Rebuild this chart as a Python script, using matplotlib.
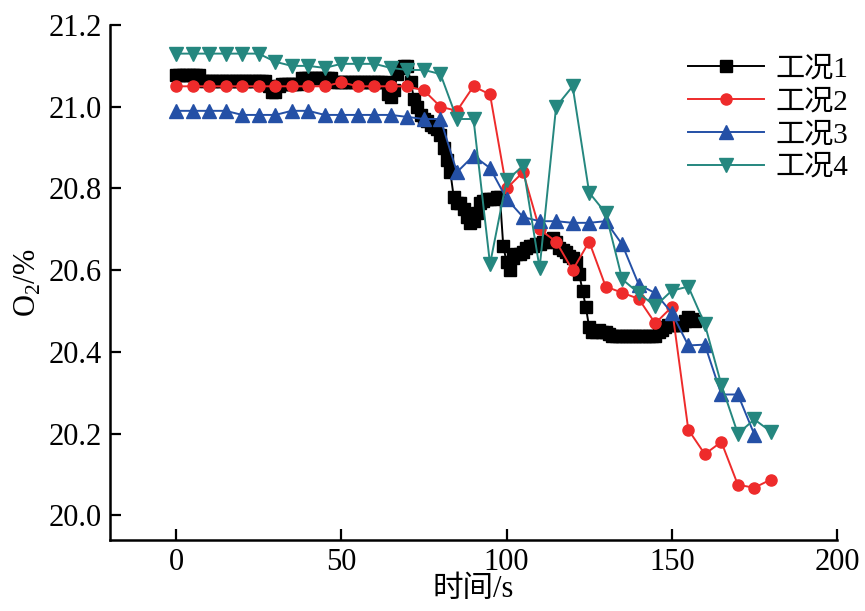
import matplotlib
matplotlib.use("Agg")
import matplotlib.pyplot as plt

plt.rcParams['font.family'] = ['Liberation Serif', 'Noto Sans CJK SC', 'DejaVu Sans']
plt.rcParams['mathtext.fontset'] = 'custom'
plt.rcParams['mathtext.rm'] = 'Liberation Serif'

# ---- data ----
t1 = list(range(0, 158))
y1 = [21.078, 21.078, 21.078, 21.078, 21.078, 21.078, 21.078, 21.078,
      21.063, 21.063, 21.063, 21.063, 21.063, 21.063, 21.063, 21.063, 21.063, 21.063,
      21.063, 21.063, 21.063, 21.063, 21.063, 21.063, 21.063, 21.063, 21.063, 21.063,
      21.05, 21.035, 21.035, 21.05,
      21.055, 21.055, 21.055, 21.055, 21.055, 21.055,
      21.07, 21.07, 21.07, 21.07, 21.07, 21.07, 21.07, 21.07, 21.07, 21.07,
      21.06, 21.06, 21.06, 21.06, 21.06, 21.06, 21.06, 21.06, 21.06, 21.06, 21.06, 21.06,
      21.06, 21.06, 21.06, 21.06,
      21.03, 21.025, 21.04, 21.08, 21.095, 21.10, 21.10, 21.06, 21.02, 21.0,
      20.98, 20.97, 20.965, 20.955, 20.95, 20.945, 20.93, 20.90, 20.87, 20.84,
      20.78, 20.765, 20.765, 20.75, 20.73, 20.715, 20.72, 20.74, 20.765, 20.77,
      20.775, 20.775, 20.775, 20.78, 20.78, 20.66, 20.62, 20.60, 20.63, 20.64,
      20.64, 20.645, 20.655, 20.66, 20.66, 20.665, 20.665, 20.67, 20.67, 20.675,
      20.68, 20.67, 20.655, 20.65, 20.645, 20.635, 20.63, 20.62, 20.59, 20.55,
      20.51, 20.46, 20.45, 20.45, 20.455, 20.45, 20.45, 20.445,
      20.44, 20.44, 20.44, 20.44, 20.44, 20.44, 20.44, 20.44, 20.44, 20.44, 20.44, 20.44,
      20.44, 20.44,
      20.45, 20.455, 20.46,
      20.465, 20.465, 20.465, 20.465, 20.465,
      20.475, 20.485, 20.48, 20.475]

t2 = list(range(0, 181, 5))
y2 = [21.05, 21.05, 21.05, 21.05, 21.05, 21.05, 21.05, 21.05, 21.05, 21.05,
      21.06, 21.05, 21.05, 21.05, 21.05, 21.04, 21.00, 20.99, 21.05, 21.03,
      20.80, 20.84, 20.70, 20.67, 20.60, 20.67, 20.56, 20.545, 20.53, 20.47,
      20.51, 20.21, 20.15, 20.18, 20.075, 20.068, 20.088]

t3 = list(range(0, 176, 5))
y3 = [20.99, 20.99, 20.99, 20.99, 20.98, 20.98, 20.98, 20.99, 20.99, 20.98,
      20.98, 20.98, 20.98, 20.98, 20.975, 20.97, 20.97, 20.84, 20.88, 20.85,
      20.775, 20.73, 20.72, 20.72, 20.716, 20.716, 20.72, 20.663, 20.565, 20.544,
      20.496, 20.416, 20.418, 20.296, 20.296, 20.198]

t4 = list(range(0, 181, 5))
y4 = [21.13, 21.13, 21.13, 21.13, 21.13, 21.13, 21.11, 21.10, 21.10, 21.095,
      21.105, 21.105, 21.105, 21.095, 21.09, 21.09, 21.08, 20.97, 20.97, 20.615,
      20.82, 20.855, 20.605, 21.00, 21.05, 20.79, 20.74, 20.578, 20.544, 20.512,
      20.55, 20.56, 20.468, 20.32, 20.20, 20.235, 20.205]

labels = ['工况1', '工况2', '工况3', '工况4']
colors = ['#000000', '#EE2B2B', '#2450A6', '#25877F']

xticks = [0, 50, 100, 150, 200]
yticks = [20.0, 20.2, 20.4, 20.6, 20.8, 21.0, 21.2]

# ---- figure ----
fig = plt.figure(figsize=(8.65, 6.11), dpi=100)
ax = fig.add_axes([110/865, 1-540/611, (837-110)/865, (540-25)/611])

ax.plot(t1, y1, color=colors[0], marker='s', ms=8, lw=1.4, label=labels[0])
ax.plot(t2, y2, color=colors[1], marker='o', ms=8, lw=1.4, label=labels[1])
ax.plot(t3, y3, color=colors[2], marker='^', ms=9.5, lw=1.4, label=labels[2])
ax.plot(t4, y4, color=colors[3], marker='v', ms=9.5, lw=1.4, label=labels[3])

ax.set_xlim(-20, 200)
ax.set_ylim(19.94, 21.2)
ax.set_xticks(xticks)
ax.set_xticklabels([str(v) for v in xticks])
ax.set_yticks(yticks)
ax.set_yticklabels([f'{v:.1f}' for v in yticks])

for s in ['top', 'right']:
    ax.spines[s].set_visible(False)
for s in ['left', 'bottom']:
    ax.spines[s].set_linewidth(1.8)

ax.tick_params(direction='in', length=8, width=1.6, labelsize=22, pad=6)

ax.set_xlabel('时间/s', fontsize=22, labelpad=-2)
ax.set_ylabel('O$_2$/%', fontsize=22, labelpad=4)

leg = ax.legend(loc='upper left', bbox_to_anchor=(688/865, 1-56/611),
                bbox_transform=fig.transFigure, frameon=False, fontsize=21,
                handlelength=2.6, handletextpad=0.4, labelspacing=0.22,
                borderpad=0, borderaxespad=0)

fig.savefig('out.png', dpi=100)
